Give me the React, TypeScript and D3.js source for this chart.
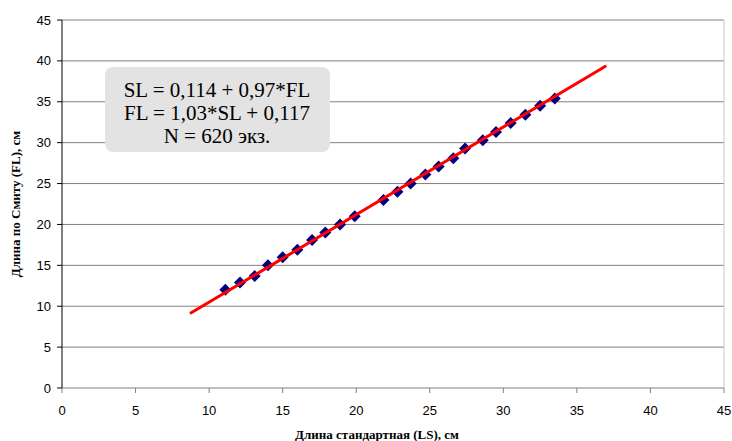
import React from "react";
import * as d3 from "d3";

const pointsLS = [11.1, 12.1, 13.1, 14.0, 15.0, 16.0, 17.0, 17.9, 18.9, 19.9, 21.85, 22.8, 23.7, 24.7, 25.6, 26.6, 27.4, 28.6, 29.5, 30.5, 31.5, 32.5, 33.5];
const pointsFL = [12.0, 12.9, 13.7, 15.0, 16.0, 16.9, 18.1, 19.0, 20.0, 21.0, 23.0, 24.0, 25.0, 26.1, 27.1, 28.1, 29.3, 30.3, 31.3, 32.4, 33.4, 34.5, 35.4];
const lineLS = [8.7, 37.0];
const lineFL = [9.1, 39.4];
const xTicks = [0, 5, 10, 15, 20, 25, 30, 35, 40, 45];
const yTicks = [0, 5, 10, 15, 20, 25, 30, 35, 40, 45];
const annotationLines = ["SL = 0,114 + 0,97*FL", "FL = 1,03*SL + 0,117", "N = 620 экз."];
const xTitle = "Длина стандартная (LS), см";
const yTitle = "Длина по Смиту (FL), см";

const W = 732;
const H = 441;
const left = 62;
const right = 724;
const top = 20;
const bottom = 388;

export default function App() {
  const x = d3.scaleLinear().domain([0, 45]).range([left, right]);
  const y = d3.scaleLinear().domain([0, 45]).range([bottom, top]);
  const line = d3.line<number>().x((d, i) => x(lineLS[i])).y((d, i) => y(lineFL[i]));
  const r = 6;
  const diamond = `M0,${-r}L${r},0L0,${r}L${-r},0Z`;
  const sans = "Liberation Sans, Arial, sans-serif";
  const serif = "Liberation Serif, DejaVu Serif, serif";
  return (
    <svg width={W} height={H} style={{ position: "absolute", left: 0, top: 0, background: "#fff" }}>
      {yTicks.filter((t) => t > 0).map((t) => (
        <line key={"g" + t} x1={left} x2={right} y1={y(t)} y2={y(t)} stroke="#808080" strokeWidth={1} />
      ))}
      <line x1={right} x2={right} y1={top} y2={bottom} stroke="#c8c8c8" strokeWidth={1} />
      <line x1={left} x2={right} y1={bottom} y2={bottom} stroke="#808080" strokeWidth={1} />
      <line x1={left} x2={left} y1={top} y2={bottom} stroke="#000" strokeWidth={1} />
      {yTicks.map((t) => (
        <g key={"y" + t}>
          <line x1={left - 5} x2={left} y1={y(t)} y2={y(t)} stroke="#000" />
          <text x={left - 11} y={y(t)} dy="0.35em" textAnchor="end" fontFamily={sans} fontSize={13} fill="#000">{t}</text>
        </g>
      ))}
      {xTicks.map((t) => (
        <g key={"x" + t}>
          <line x1={x(t)} x2={x(t)} y1={bottom} y2={bottom + 5} stroke="#808080" />
          <text x={x(t)} y={bottom + 22} dy="0.35em" textAnchor="middle" fontFamily={sans} fontSize={13} fill="#000">{t}</text>
        </g>
      ))}
      <text x={377} y={439} textAnchor="middle" fontFamily={serif} fontWeight="bold" fontSize={13} fill="#000">{xTitle}</text>
      <text transform={`translate(20,${(top + bottom) / 2}) rotate(-90)`} textAnchor="middle" fontFamily={serif} fontWeight="bold" fontSize={13} fill="#000">{yTitle}</text>
      {pointsLS.map((v, i) => (
        <path key={"p" + i} d={diamond} transform={`translate(${x(v)},${y(pointsFL[i])})`} fill="#000080" />
      ))}
      <path d={line(lineLS) || ""} fill="none" stroke="#ff0000" strokeWidth={3} />
      <rect x={105} y={67} width={225} height={85} rx={8} ry={8} fill="#e3e3e3" />
      {annotationLines.map((s, i) => (
        <text key={"a" + i} x={217} y={97 + i * 23} textAnchor="middle" fontFamily={serif} fontSize={21} fill="#000">{s}</text>
      ))}
    </svg>
  );
}
